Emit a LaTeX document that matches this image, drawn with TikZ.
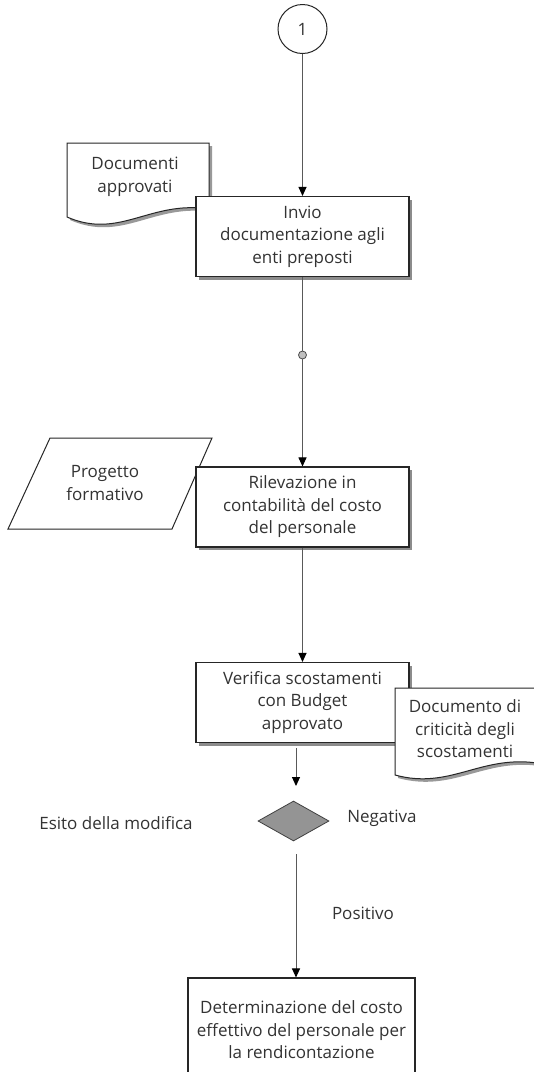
\documentclass[tikz,border=0pt]{standalone}
\usepackage{fontspec}
\setmainfont{Open Sans}
\usetikzlibrary{shapes.geometric,shadows,arrows.meta}

\tikzset{
  txt/.style={font=\fontsize{17}{22.5}\selectfont, text=black!80, align=center},
  proc/.style={txt, draw=black!85, line width=1.1pt, fill=white, minimum width=213pt,
    minimum height=80pt, inner sep=0pt,
    drop shadow={shadow xshift=3pt, shadow yshift=-3pt, fill=black!45, opacity=1}},
  docshape/.style={draw=black!85, line width=1pt, fill=white},
  docshadow/.style={fill=black!40},
  flow/.style={draw=black!65, line width=1pt, -{Triangle[length=9pt,width=8pt,black]}},
  link/.style={draw=black!65, line width=1pt},
}

\begin{document}
\begin{tikzpicture}[x=1pt,y=-1pt]
  \clip (0,0) rectangle (534,1072);
  \fill[white] (0,0) rectangle (534,1072);

  % Inputs behind the boxes
  \fill[docshadow] (70,146) -- (212,146) -- (212,212)
    .. controls (153,203) and (123,243) .. (70,220) -- cycle;
  \draw[docshape] (67,143) -- (209,143) -- (209,209)
    .. controls (150,200) and (120,240) .. (67,217) -- cycle;
  \node[txt] (docapp) at (135,177) {Documenti\\approvati};

  \draw[docshape] (50,438) -- (212,438) -- (172,529) -- (8,529) -- cycle;
  \node[txt] (progetto) at (105,483) {Progetto\\formativo};

  % Main flow
  \node[circle, draw=black!85, line width=1pt, minimum size=49pt, inner sep=0pt, txt]
    (c1) at (302.5,29) {1};
  \node[proc] (invio) at (302.5,236.5) {Invio\\documentazione agli\\enti preposti};
  \node[circle, draw=black!70, fill=black!25, line width=0.8pt, minimum size=8pt,
    inner sep=0pt] (dot) at (302.5,355) {};
  \node[proc] (rilev) at (302.5,507) {Rilevazione in\\contabilità del costo\\del personale};
  \node[proc] (verif) at (302.5,702.5) {Verifica scostamenti\\con Budget\\approvato};

  % Output document over the box
  \fill[docshadow] (398,691) -- (540,691) -- (540,766)
    .. controls (483,758) and (453,793) .. (398,778) -- cycle;
  \draw[docshape] (395,688) -- (537,688) -- (537,763)
    .. controls (480,755) and (450,790) .. (395,775) -- cycle;
  \node[txt] (doccrit) at (465,729) {Documento di\\criticità degli\\scostamenti};

  % Decision
  \node[diamond, draw=black!75, fill=black!42, line width=0.8pt, minimum width=71pt,
    minimum height=40pt, inner sep=0pt] (esito) at (293.5,821) {};
  \node[txt] (esitolbl) at (116,823) {Esito della modifica};
  \node[txt] (neg) at (382,818) {Negativa};
  \node[txt] (pos) at (363,913) {Positivo};

  \node[txt, draw=black!85, line width=1.1pt, minimum width=227pt, minimum height=104pt,
    inner sep=0pt] (determ) at (301.5,1030)
    {Determinazione del costo\\effettivo del personale per\\la rendicontazione};

  \coordinate (vout) at (296,748);
  \coordinate (vin) at (296,786);
  \coordinate (eout) at (296,854);

  \draw[flow] (c1) -- (invio);
  \draw[link] (invio) -- (dot);
  \draw[flow] (dot) -- (rilev);
  \draw[flow] (rilev) -- (verif);
  \draw[flow] (vout) -- (vin);
  \draw[flow] (eout) -- (eout |- determ.north);
\end{tikzpicture}
\end{document}
